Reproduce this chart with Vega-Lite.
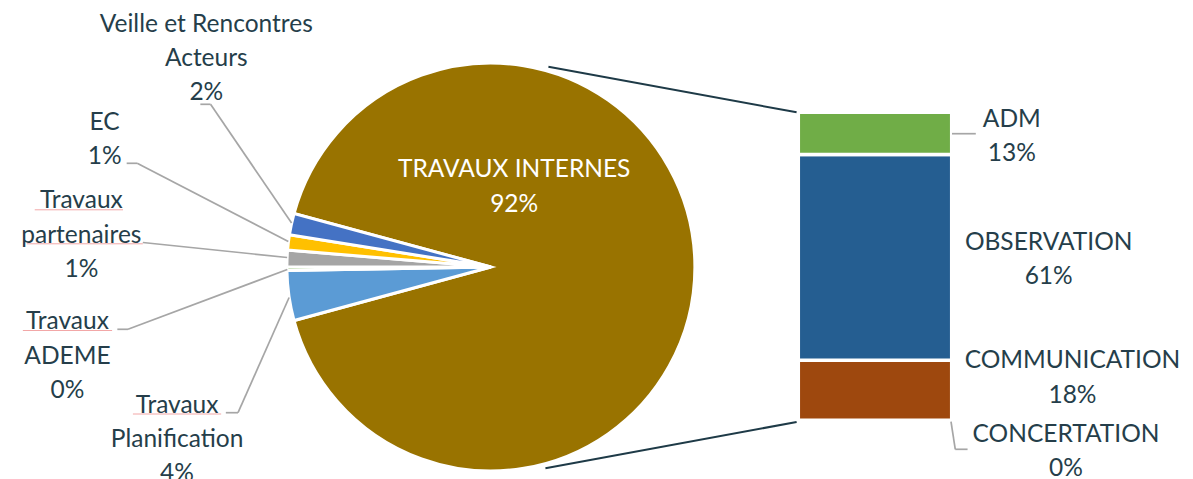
{
  "$schema": "https://vega.github.io/schema/vega-lite/v6.json",
  "width": 1193,
  "height": 479,
  "padding": 0,
  "autosize": {"type": "none"},
  "background": "white",
  "config": {
    "view": {"stroke": null},
    "axis": {"disable": true},
    "legend": {"disable": true},
    "text": {"font": "Lato", "fontSize": 24.5, "color": "#253E4A", "align": "center", "baseline": "alphabetic", "lineBreak": "\n", "lineHeight": 34.3}
  },
  "datasets": {
    "pie": [
      {"cat": "TRAVAUX INTERNES", "value": 91.55, "k": 1, "label": "TRAVAUX INTERNES\n92%"},
      {"cat": "Travaux Planification", "value": 3.95, "k": 2, "label": "Travaux\nPlanification\n4%"},
      {"cat": "Travaux ADEME", "value": 0.3, "k": 3, "label": "Travaux\nADEME\n0%"},
      {"cat": "Travaux partenaires", "value": 1.3, "k": 4, "label": "Travaux\npartenaires\n1%"},
      {"cat": "EC", "value": 1.2, "k": 5, "label": "EC\n1%"},
      {"cat": "Veille et Rencontres Acteurs", "value": 1.7, "k": 6, "label": "Veille et Rencontres\nActeurs\n2%"}
    ],
    "bar": [
      {"cat": "CONCERTATION", "value": 0.2, "k": 1, "label": "CONCERTATION\n0%"},
      {"cat": "COMMUNICATION", "value": 17.8, "k": 2, "label": "COMMUNICATION\n18%"},
      {"cat": "OBSERVATION", "value": 61.0, "k": 3, "label": "OBSERVATION\n61%"},
      {"cat": "ADM", "value": 12.5, "k": 4, "label": "ADM\n13%"}
    ],
    "one": [{}]
  },
  "resolve": {"scale": {"y": "independent", "color": "independent"}},
  "layer": [
    {
      "data": {"name": "bar"},
      "mark": {"type": "bar", "orient": "vertical", "stroke": "white", "strokeWidth": 3.5},
      "encoding": {
        "x": {"datum": 800, "scale": {"domain": [0, 1193], "nice": false, "zero": false}},
        "x2": {"datum": 954.7},
        "y": {"field": "value", "type": "quantitative", "stack": "zero", "scale": {"domain": [-17.19, 124.78], "nice": false, "zero": false}},
        "color": {"field": "cat", "type": "nominal", "scale": {"domain": ["CONCERTATION", "COMMUNICATION", "OBSERVATION", "ADM"], "range": ["#636363", "#9E480E", "#255E91", "#70AD47"]}, "legend": null},
        "order": {"field": "k", "type": "quantitative"}
      }
    },
    {
      "layer": [
        {
          "data": {"name": "pie"},
          "mark": {"type": "arc", "radius": 204, "stroke": "white", "strokeWidth": 3},
          "encoding": {
            "theta": {"field": "value", "type": "quantitative", "stack": true, "scale": {"range": [4.9777, 11.2609]}},
            "order": {"field": "k", "type": "quantitative"},
            "color": {"field": "cat", "type": "nominal", "scale": {"domain": ["TRAVAUX INTERNES", "Travaux Planification", "Travaux ADEME", "Travaux partenaires", "EC", "Veille et Rencontres Acteurs"], "range": ["#997300", "#5B9BD5", "#70AD47", "#A5A5A5", "#FFC000", "#4472C4"]}, "legend": null},
            "x": {"datum": 490},
            "y": {"datum": 267, "scale": {"domain": [0, 479], "reverse": true, "nice": false, "zero": false}}
          }
        },
        {"data": {"name": "one"}, "mark": {"type": "rule", "color": "#1E3A47", "strokeWidth": 2}, "encoding": {"x": {"datum": 548}, "y": {"datum": 66.7}, "x2": {"datum": 798.3}, "y2": {"datum": 112.3}}},
        {"data": {"name": "one"}, "mark": {"type": "rule", "color": "#1E3A47", "strokeWidth": 2}, "encoding": {"x": {"datum": 545}, "y": {"datum": 468.3}, "x2": {"datum": 798.3}, "y2": {"datum": 422}}},

        {"data": {"name": "one"}, "mark": {"type": "rule", "color": "#A6A6A6", "strokeWidth": 1.7}, "encoding": {"x": {"datum": 197}, "y": {"datum": 104.3}, "x2": {"datum": 207.3}, "y2": {"datum": 104.3}}},
        {"data": {"name": "one"}, "mark": {"type": "rule", "color": "#A6A6A6", "strokeWidth": 1.7}, "encoding": {"x": {"datum": 207.3}, "y": {"datum": 104.3}, "x2": {"datum": 289}, "y2": {"datum": 223}}},
        {"data": {"name": "one"}, "mark": {"type": "rule", "color": "#A6A6A6", "strokeWidth": 1.7}, "encoding": {"x": {"datum": 122.7}, "y": {"datum": 163.3}, "x2": {"datum": 133.3}, "y2": {"datum": 163.3}}},
        {"data": {"name": "one"}, "mark": {"type": "rule", "color": "#A6A6A6", "strokeWidth": 1.7}, "encoding": {"x": {"datum": 133.3}, "y": {"datum": 163.3}, "x2": {"datum": 285.7}, "y2": {"datum": 241.5}}},
        {"data": {"name": "one"}, "mark": {"type": "rule", "color": "#A6A6A6", "strokeWidth": 1.7}, "encoding": {"x": {"datum": 139}, "y": {"datum": 242.5}, "x2": {"datum": 284.5}, "y2": {"datum": 257.5}}},
        {"data": {"name": "one"}, "mark": {"type": "rule", "color": "#A6A6A6", "strokeWidth": 1.7}, "encoding": {"x": {"datum": 113.3}, "y": {"datum": 329.3}, "x2": {"datum": 124}, "y2": {"datum": 329.3}}},
        {"data": {"name": "one"}, "mark": {"type": "rule", "color": "#A6A6A6", "strokeWidth": 1.7}, "encoding": {"x": {"datum": 124}, "y": {"datum": 329.3}, "x2": {"datum": 284.7}, "y2": {"datum": 269.5}}},
        {"data": {"name": "one"}, "mark": {"type": "rule", "color": "#A6A6A6", "strokeWidth": 1.7}, "encoding": {"x": {"datum": 222.7}, "y": {"datum": 412.7}, "x2": {"datum": 235}, "y2": {"datum": 412.7}}},
        {"data": {"name": "one"}, "mark": {"type": "rule", "color": "#A6A6A6", "strokeWidth": 1.7}, "encoding": {"x": {"datum": 235}, "y": {"datum": 412.7}, "x2": {"datum": 286.5}, "y2": {"datum": 297.5}}},
        {"data": {"name": "one"}, "mark": {"type": "rule", "color": "#A6A6A6", "strokeWidth": 1.7}, "encoding": {"x": {"datum": 955}, "y": {"datum": 133.7}, "x2": {"datum": 979}, "y2": {"datum": 133.7}}},
        {"data": {"name": "one"}, "mark": {"type": "rule", "color": "#A6A6A6", "strokeWidth": 1.7}, "encoding": {"x": {"datum": 954}, "y": {"datum": 421.7}, "x2": {"datum": 958.3}, "y2": {"datum": 449.3}}},
        {"data": {"name": "one"}, "mark": {"type": "rule", "color": "#A6A6A6", "strokeWidth": 1.7}, "encoding": {"x": {"datum": 958.3}, "y": {"datum": 449.3}, "x2": {"datum": 970.7}, "y2": {"datum": 449.3}}},

        {"data": {"name": "one"}, "mark": {"type": "rule", "color": "#F2A7A7", "strokeWidth": 1}, "encoding": {"x": {"datum": 30}, "y": {"datum": 209.8}, "x2": {"datum": 119}, "y2": {"datum": 209.8}}},
        {"data": {"name": "one"}, "mark": {"type": "rule", "color": "#F2A7A7", "strokeWidth": 1}, "encoding": {"x": {"datum": 22}, "y": {"datum": 243.8}, "x2": {"datum": 139}, "y2": {"datum": 243.8}}},
        {"data": {"name": "one"}, "mark": {"type": "rule", "color": "#F2A7A7", "strokeWidth": 1}, "encoding": {"x": {"datum": 18}, "y": {"datum": 330.5}, "x2": {"datum": 108}, "y2": {"datum": 330.5}}},
        {"data": {"name": "one"}, "mark": {"type": "rule", "color": "#F2A7A7", "strokeWidth": 1}, "encoding": {"x": {"datum": 129}, "y": {"datum": 414}, "x2": {"datum": 218}, "y2": {"datum": 414}}},

        {"data": {"name": "pie"}, "transform": [{"filter": "datum.cat === 'TRAVAUX INTERNES'"}], "mark": {"type": "text", "color": "white", "lineHeight": 35}, "encoding": {"text": {"field": "label"}, "x": {"datum": 513.5}, "y": {"datum": 176.7}}},
        {"data": {"name": "pie"}, "transform": [{"filter": "datum.cat === 'Veille et Rencontres Acteurs'"}], "mark": {"type": "text"}, "encoding": {"text": {"field": "label"}, "x": {"datum": 203}, "y": {"datum": 31.7}}},
        {"data": {"name": "pie"}, "transform": [{"filter": "datum.cat === 'EC'"}], "mark": {"type": "text"}, "encoding": {"text": {"field": "label"}, "x": {"datum": 100.5}, "y": {"datum": 130}}},
        {"data": {"name": "pie"}, "transform": [{"filter": "datum.cat === 'Travaux partenaires'"}], "mark": {"type": "text"}, "encoding": {"text": {"field": "label"}, "x": {"datum": 77}, "y": {"datum": 208.3}}},
        {"data": {"name": "pie"}, "transform": [{"filter": "datum.cat === 'Travaux ADEME'"}], "mark": {"type": "text"}, "encoding": {"text": {"field": "label"}, "x": {"datum": 63}, "y": {"datum": 329.3}}},
        {"data": {"name": "pie"}, "transform": [{"filter": "datum.cat === 'Travaux Planification'"}], "mark": {"type": "text"}, "encoding": {"text": {"field": "label"}, "x": {"datum": 173.5}, "y": {"datum": 412.7}}},
        {"data": {"name": "bar"}, "transform": [{"filter": "datum.cat === 'ADM'"}], "mark": {"type": "text"}, "encoding": {"text": {"field": "label"}, "x": {"datum": 1015.3}, "y": {"datum": 126.7}}},
        {"data": {"name": "bar"}, "transform": [{"filter": "datum.cat === 'OBSERVATION'"}], "mark": {"type": "text"}, "encoding": {"text": {"field": "label"}, "x": {"datum": 1052.5}, "y": {"datum": 250}}},
        {"data": {"name": "bar"}, "transform": [{"filter": "datum.cat === 'COMMUNICATION'"}], "mark": {"type": "text"}, "encoding": {"text": {"field": "label"}, "x": {"datum": 1076.5}, "y": {"datum": 368.3}}},
        {"data": {"name": "bar"}, "transform": [{"filter": "datum.cat === 'CONCERTATION'"}], "mark": {"type": "text"}, "encoding": {"text": {"field": "label"}, "x": {"datum": 1070}, "y": {"datum": 441.7}}}
      ]
    }
  ]
}
